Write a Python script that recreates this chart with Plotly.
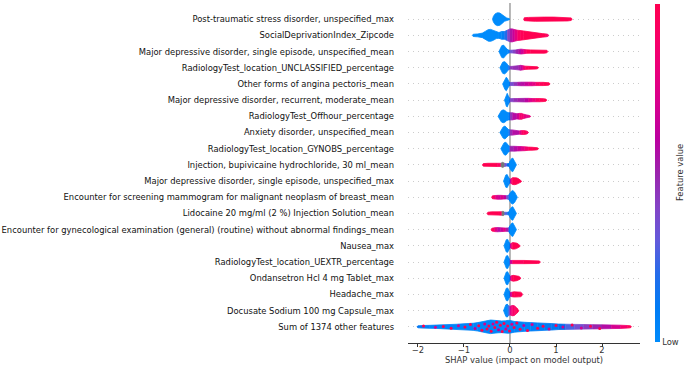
import math
import plotly.graph_objects as go

# ---------------- data (top row first) ----------------
features = [
    "Post-traumatic stress disorder, unspecified_max",
    "SocialDeprivationIndex_Zipcode",
    "Major depressive disorder, single episode, unspecified_mean",
    "RadiologyTest_location_UNCLASSIFIED_percentage",
    "Other forms of angina pectoris_mean",
    "Major depressive disorder, recurrent, moderate_mean",
    "RadiologyTest_Offhour_percentage",
    "Anxiety disorder, unspecified_mean",
    "RadiologyTest_location_GYNOBS_percentage",
    "Injection, bupivicaine hydrochloride, 30 ml_mean",
    "Major depressive disorder, single episode, unspecified_max",
    "Encounter for screening mammogram for malignant neoplasm of breast_mean",
    "Lidocaine 20 mg/ml (2 %) Injection Solution_mean",
    "Encounter for gynecological examination (general) (routine) without abnormal findings_mean",
    "Nausea_max",
    "RadiologyTest_location_UEXTR_percentage",
    "Ondansetron Hcl 4 mg Tablet_max",
    "Headache_max",
    "Docusate Sodium 100 mg Capsule_max",
    "Sum of 1374 other features",
]

# SHAP value knots of each row's swarm
shap_x = [
    [-0.38, -0.36, -0.32, -0.27, -0.22, -0.17, -0.12, -0.07, -0.02, 0.0, 0.30, 0.31, 0.40, 0.55, 0.75, 0.95, 1.10, 1.25, 1.33, 1.35],
    [-0.82, -0.80, -0.70, -0.60, -0.53, -0.47, -0.42, -0.36, -0.30, -0.24, -0.18, -0.12, -0.06, 0.0, 0.05, 0.10, 0.16, 0.22, 0.30, 0.40, 0.50, 0.60, 0.70, 0.78, 0.82, 0.84],
    [-0.24, -0.22, -0.18, -0.14, -0.10, -0.06, -0.02, 0.0, 0.06, 0.12, 0.18, 0.24, 0.30, 0.36, 0.45, 0.55, 0.65, 0.75, 0.80, 0.82],
    [-0.22, -0.20, -0.16, -0.12, -0.08, -0.04, 0.0, 0.06, 0.12, 0.18, 0.23, 0.28, 0.33, 0.40, 0.48, 0.56, 0.60, 0.62],
    [-0.16, -0.14, -0.11, -0.08, -0.05, -0.02, 0.0, 0.08, 0.16, 0.24, 0.32, 0.40, 0.48, 0.56, 0.64, 0.72, 0.80, 0.85, 0.87],
    [-0.12, -0.10, -0.08, -0.06, -0.03, 0.0, 0.08, 0.16, 0.24, 0.32, 0.40, 0.48, 0.56, 0.64, 0.72, 0.78, 0.80],
    [-0.26, -0.23, -0.19, -0.15, -0.11, -0.07, -0.03, 0.0, 0.05, 0.10, 0.15, 0.20, 0.25, 0.30, 0.36, 0.41, 0.44, 0.45],
    [-0.22, -0.19, -0.15, -0.11, -0.07, -0.03, 0.0, 0.05, 0.10, 0.15, 0.20, 0.25, 0.30, 0.35, 0.38, 0.40],
    [-0.20, -0.17, -0.13, -0.09, -0.05, -0.02, 0.0, 0.08, 0.16, 0.24, 0.32, 0.40, 0.48, 0.56, 0.60, 0.62],
    [-0.60, -0.58, -0.48, -0.38, -0.28, -0.20, -0.16, -0.12, -0.07, -0.02, 0.0, 0.03, 0.06, 0.09, 0.12, 0.14],
    [-0.14, -0.12, -0.09, -0.06, -0.03, 0.0, 0.03, 0.06, 0.10, 0.14, 0.18, 0.21, 0.24, 0.25],
    [-0.40, -0.38, -0.32, -0.26, -0.20, -0.14, -0.08, -0.03, 0.0, 0.03, 0.06, 0.10, 0.13, 0.15, 0.16],
    [-0.50, -0.48, -0.40, -0.32, -0.24, -0.18, -0.15, -0.12, -0.06, -0.02, 0.0, 0.03, 0.06, 0.09, 0.12, 0.14],
    [-0.41, -0.39, -0.33, -0.27, -0.21, -0.15, -0.09, -0.03, 0.0, 0.03, 0.06, 0.09, 0.12, 0.14],
    [-0.13, -0.11, -0.08, -0.05, -0.02, 0.0, 0.03, 0.06, 0.10, 0.14, 0.18, 0.21, 0.22],
    [-0.13, -0.11, -0.08, -0.05, -0.02, 0.0, 0.05, 0.12, 0.20, 0.30, 0.40, 0.50, 0.60, 0.64, 0.66],
    [-0.13, -0.11, -0.08, -0.05, -0.02, 0.0, 0.03, 0.07, 0.11, 0.15, 0.19, 0.22, 0.23],
    [-0.13, -0.11, -0.08, -0.05, -0.02, 0.0, 0.04, 0.09, 0.14, 0.19, 0.23, 0.26, 0.27],
    [-0.14, -0.12, -0.09, -0.06, -0.03, 0.0, 0.03, 0.06, 0.09, 0.12, 0.15, 0.18, 0.19],
    [-2.02, -2.0, -1.9, -1.75, -1.6, -1.45, -1.3, -1.15, -1.0, -0.9, -0.8, -0.7, -0.6, -0.5, -0.42, -0.34, -0.26, -0.18, -0.1, -0.04,
     0.02, 0.1, 0.2, 0.32, 0.45, 0.6, 0.75, 0.9, 1.05, 1.2, 1.4, 1.6, 1.8, 2.0, 2.2, 2.4, 2.55, 2.62, 2.64],
]

# swarm half-thickness (point density) at each knot, in row units
spread = [
    [0, 0.18, 0.34, 0.40, 0.38, 0.26, 0.13, 0.07, 0.04, 0, 0, 0.09, 0.11, 0.13, 0.13, 0.13, 0.12, 0.11, 0.08, 0],
    [0, 0.07, 0.09, 0.14, 0.26, 0.36, 0.37, 0.30, 0.20, 0.18, 0.24, 0.24, 0.32, 0.40, 0.40, 0.36, 0.32, 0.30, 0.27, 0.22, 0.18, 0.14, 0.11, 0.09, 0.07, 0],
    [0, 0.14, 0.36, 0.40, 0.30, 0.14, 0.08, 0.08, 0.09, 0.10, 0.13, 0.15, 0.13, 0.11, 0.10, 0.10, 0.10, 0.10, 0.08, 0],
    [0, 0.14, 0.34, 0.38, 0.30, 0.14, 0.08, 0.09, 0.10, 0.13, 0.15, 0.13, 0.10, 0.09, 0.09, 0.08, 0.06, 0],
    [0, 0.10, 0.34, 0.42, 0.30, 0.12, 0.09, 0.10, 0.10, 0.11, 0.11, 0.11, 0.11, 0.10, 0.10, 0.10, 0.09, 0.07, 0],
    [0, 0.16, 0.38, 0.42, 0.22, 0.09, 0.10, 0.10, 0.11, 0.11, 0.11, 0.10, 0.10, 0.10, 0.09, 0.07, 0],
    [0, 0.15, 0.34, 0.40, 0.36, 0.26, 0.22, 0.22, 0.22, 0.18, 0.16, 0.18, 0.18, 0.13, 0.09, 0.06, 0.04, 0],
    [0, 0.14, 0.34, 0.40, 0.30, 0.18, 0.16, 0.16, 0.14, 0.12, 0.10, 0.12, 0.12, 0.10, 0.07, 0],
    [0, 0.14, 0.36, 0.40, 0.26, 0.16, 0.15, 0.15, 0.14, 0.13, 0.12, 0.10, 0.09, 0.08, 0.06, 0],
    [0, 0.08, 0.10, 0.10, 0.10, 0.10, 0.16, 0.10, 0.07, 0.09, 0.22, 0.38, 0.42, 0.30, 0.12, 0],
    [0, 0.14, 0.38, 0.40, 0.22, 0.10, 0.16, 0.21, 0.22, 0.20, 0.16, 0.11, 0.06, 0],
    [0, 0.09, 0.11, 0.12, 0.12, 0.11, 0.10, 0.12, 0.25, 0.38, 0.42, 0.32, 0.16, 0.06, 0],
    [0, 0.08, 0.10, 0.10, 0.10, 0.11, 0.14, 0.08, 0.07, 0.10, 0.24, 0.38, 0.42, 0.30, 0.12, 0],
    [0, 0.09, 0.12, 0.13, 0.12, 0.11, 0.10, 0.11, 0.24, 0.38, 0.42, 0.30, 0.12, 0],
    [0, 0.14, 0.38, 0.40, 0.22, 0.10, 0.16, 0.20, 0.20, 0.17, 0.12, 0.06, 0],
    [0, 0.14, 0.38, 0.40, 0.22, 0.09, 0.10, 0.10, 0.10, 0.10, 0.10, 0.10, 0.09, 0.07, 0],
    [0, 0.14, 0.38, 0.40, 0.22, 0.10, 0.15, 0.18, 0.17, 0.15, 0.12, 0.06, 0],
    [0, 0.14, 0.38, 0.40, 0.22, 0.10, 0.14, 0.16, 0.16, 0.15, 0.14, 0.08, 0],
    [0, 0.14, 0.36, 0.40, 0.30, 0.26, 0.30, 0.32, 0.30, 0.24, 0.16, 0.07, 0],
    [0, 0.06, 0.08, 0.09, 0.10, 0.11, 0.13, 0.16, 0.19, 0.20, 0.22, 0.26, 0.32, 0.38, 0.42, 0.40, 0.37, 0.36, 0.37, 0.40,
     0.38, 0.33, 0.30, 0.28, 0.26, 0.24, 0.22, 0.20, 0.17, 0.16, 0.15, 0.14, 0.13, 0.12, 0.11, 0.10, 0.08, 0.06, 0],
]

# mean (normalised) feature value at each knot: 0 = low, 1 = high, None = missing
feat = [
    [0, 0, 0, 0, 0, 0, 0, 0, 0, 0, 1, 1, 1, 1, 1, 1, 1, 1, 1, 1],
    [0, 0, 0, 0, 0, 0, 0, 0, 0, 0, 0.05, 0.1, 0.3, 0.5, 0.6, 0.7, 0.85, 0.95, 1, 1, 1, 1, 1, 1, 0.85, 0.85],
    [0, 0, 0, 0, 0, 0, 0.1, 0.3, 0.35, 0.45, 0.55, 0.6, 0.75, 0.95, 1, 1, 1, 1, 1, 1],
    [0, 0, 0, 0, 0, 0, 0.4, 0.5, 0.45, 0.5, 0.55, 0.75, 0.95, 1, 1, 1, 1, 1],
    [0, 0, 0, 0, 0, 0, 0.3, 0.4, 0.5, 0.6, 0.55, 0.75, 0.7, 0.85, 0.95, 1, 1, 1, 1],
    [0, 0, 0, 0, 0, 0.35, 0.45, 0.5, 0.55, 0.5, 0.7, 0.75, 0.85, 0.95, 1, 1, 1],
    [0, 0, 0, 0, 0, 0, 0, 0.35, 0.55, 0.6, 0.55, 0.8, 0.9, 0.85, 0.7, 0.8, 0.8, 0.8],
    [0, 0, 0, 0, 0, 0, 0.4, 0.55, 0.6, 0.55, 0.6, 0.9, 0.95, 0.95, 0.9, 0.9],
    [0, 0, 0, 0, 0, 0, 0.45, 0.55, 0.6, 0.7, 0.8, 0.95, 1, 1, 1, 1],
    [1, 1, 1, 1, 1, 0.85, None, 0.35, 0.3, 0.05, 0, 0, 0, 0, 0, 0],
    [0, 0, 0, 0, 0, 0.3, 0.95, 1, 1, 1, 1, 1, 1, 1],
    [1, 1, 0.8, 0.65, 0.7, 0.75, 0.5, 0.15, 0, 0, 0, 0, 0, 0, 0],
    [1, 1, 1, 1, 1, 0.95, None, 0.3, 0.2, 0.05, 0, 0, 0, 0, 0, 0],
    [1, 1, 0.9, 0.55, 0.6, 0.7, 0.8, 0.25, 0, 0, 0, 0, 0, 0],
    [0, 0, 0, 0, 0, 0.3, 0.95, 1, 1, 1, 1, 1, 1],
    [0, 0, 0, 0, 0, 0.4, 0.9, 1, 0.9, 1, 1, 1, 1, 1, 1],
    [0, 0, 0, 0, 0, 0.3, 0.95, 1, 1, 1, 1, 1, 1],
    [0, 0, 0, 0, 0, 0.3, 0.95, 1, 1, 1, 1, 1, 1],
    [0, 0, 0, 0, 0.2, 0.55, 0.9, 0.85, 0.95, 0.9, 1, 1, 1],
    [0.2, 0.15, 0.1, 0.05, 0.05, 0.05, 0.05, 0.05, 0.05, 0.05, 0.05, 0.03, 0.03, 0.03, 0.03, 0.03, 0.03, 0.03, 0.03, 0.03,
     0.03, 0.05, 0.05, 0.05, 0.08, 0.08, 0.1, 0.12, 0.15, 0.2, 0.3, 0.4, 0.45, 0.55, 0.6, 0.8, 0.95, 1, 1],
]

# individual high-value points visible inside the "Sum of other features" swarm
sum_dot_x = [-1.88, -1.62, -1.45, -1.28, -1.12, -0.98, -0.86, -0.76, -0.68, -0.61, -0.55, -0.5, -0.46, -0.41, -0.37, -0.33,
             -0.29, -0.25, -0.21, -0.17, -0.13, -0.09, -0.05, -0.01, 0.04, 0.09, 0.15, 0.22, 0.3, 0.38, 0.48, 0.6, 0.72,
             0.85, 1.0, 1.15, 1.35, 1.55, 1.75, 1.95]
sum_dot_v = [1, 0.7, 1, 1, 0.7, 1, 1, 0.6, 1, 1, 0.7, 1, 1, 1, 0.7, 1, 1, 0.6, 1, 1,
             1, 0.7, 1, 1, 0.7, 1, 1, 1, 0.6, 1, 0.7, 1, 1, 0.7, 1, 0.7, 1, 0.7, 1, 1]

x_ticks = [-2, -1, 0, 1, 2]
x_title = "SHAP value (impact on model output)"
cbar_title = "Feature value"


# ---------------- shap red_blue colormap (LCH interpolation) ----------------
def lab_to_rgb(L, a, b):
    fy = (L + 16) / 116
    fx = fy + a / 500
    fz = fy - b / 200

    def finv(t):
        return t ** 3 if t ** 3 > 0.008856 else (t - 16 / 116) / 7.787

    X, Y, Z = 0.95047 * finv(fx), finv(fy), 1.08883 * finv(fz)
    r = 3.2406 * X - 1.5372 * Y - 0.4986 * Z
    g = -0.9689 * X + 1.8758 * Y + 0.0415 * Z
    bl = 0.0557 * X - 0.2040 * Y + 1.0570 * Z

    def gam(c):
        c = max(0.0, min(1.0, c))
        return 1.055 * c ** (1 / 2.4) - 0.055 if c > 0.0031308 else 12.92 * c

    return tuple(int(round(255 * gam(c))) for c in (r, g, bl))


def red_blue(t):
    L0, C0, H0 = 54.0, 70.0, 4.6588
    L1, C1, H1 = 54.0, 90.0, 0.35470565 + 2 * math.pi
    Lm = 40.0
    L = L0 + (Lm - L0) * 2 * t if t < 0.5 else Lm + (L1 - Lm) * (2 * t - 1)
    C = C0 + (C1 - C0) * t
    H = H0 + (H1 - H0) * t
    return lab_to_rgb(L, C * math.cos(H), C * math.sin(H))


def css(t):
    if t is None:
        return "rgb(119,119,119)"
    return "rgb(%d,%d,%d)" % red_blue(t)


fig = go.Figure()
n = len(features)

for i in range(n):
    yc = n - 1 - i
    xs, hs, vs = shap_x[i], spread[i], feat[i]
    m = len(xs)

    def seg_col(k):
        a, b = vs[k], vs[k + 1]
        if a is None or b is None:
            return css(None)
        return css(round((a + b) / 2, 3))

    k = 0
    while k < m - 1:
        if hs[k] == 0 and hs[k + 1] == 0:
            k += 1
            continue
        col = seg_col(k)
        j = k + 1
        while j < m - 1 and not (hs[j] == 0 and hs[j + 1] == 0) and seg_col(j) == col:
            j += 1
        sx = xs[k:j + 1]
        sh = hs[k:j + 1]
        px = sx + sx[::-1]
        py = [yc + h for h in sh] + [yc - h for h in sh[::-1]]
        fig.add_trace(go.Scatter(
            x=px, y=py, mode="lines", fill="toself", fillcolor=col,
            line=dict(color=col, width=0.8), hoverinfo="skip", showlegend=False))
        k = j

# dots inside the "Sum" swarm
sx_, sh_ = shap_x[-1], spread[-1]
pattern = [0.55, -0.35, 0.15, -0.65, 0.4, -0.1, 0.7, -0.5, 0.25, -0.8]
dot_y = []
for idx, xv in enumerate(sum_dot_x):
    kk = max(k2 for k2 in range(len(sx_)) if sx_[k2] <= xv)
    dot_y.append(pattern[idx % len(pattern)] * sh_[kk])
fig.add_trace(go.Scatter(
    x=sum_dot_x, y=dot_y, mode="markers",
    marker=dict(size=3.0, color=[css(v) for v in sum_dot_v], line=dict(width=0)),
    hoverinfo="skip", showlegend=False))

# colour bar
cscale = [[t / 10, css(t / 10)] for t in range(11)]
fig.add_trace(go.Scatter(
    x=[0], y=[-5], mode="markers",
    marker=dict(color=[0.5], cmin=0, cmax=1, colorscale=cscale, opacity=0, showscale=True,
                colorbar=dict(x=(655 - 408) / 232, xanchor="left", xpad=0, y=0.5, yanchor="middle", ypad=0,
                              thickness=5, lenmode="pixels", len=338, outlinewidth=0,
                              tickvals=[0, 1], ticktext=["Low", "High"], ticks="",
                              tickfont=dict(size=8.4, color="#333333", family="DejaVu Sans"))),
    hoverinfo="skip", showlegend=False))

fig.add_shape(type="line", x0=0, x1=0, y0=-1, y1=n, xref="x", yref="y",
              line=dict(color="#999999", width=1.4), layer="below")

fig.add_annotation(text=cbar_title, x=(680 - 408) / 232, y=0.5, xref="paper", yref="paper",
                   textangle=-90, showarrow=False, xanchor="center", yanchor="middle",
                   font=dict(size=8.4, color="#333333", family="DejaVu Sans"))
fig.add_annotation(text=x_title, x=0.5, y=-(360.5 - 343.5) / 340, xref="paper", yref="paper",
                   showarrow=False, xanchor="center", yanchor="middle",
                   font=dict(size=8.4, color="#333333", family="DejaVu Sans"))

fig.update_layout(
    width=685, height=367,
    margin=dict(l=408, r=45, t=3, b=24, autoexpand=False),
    plot_bgcolor="white", paper_bgcolor="white",
    font=dict(family="DejaVu Sans", size=8.4, color="#333333"),
    xaxis=dict(range=[-2.217, 2.826], tickvals=x_ticks, ticks="outside", ticklen=3, tickwidth=1,
               tickcolor="#333333", showline=True, linecolor="#333333", linewidth=1,
               showgrid=False, zeroline=False, automargin=False, ticklabelstandoff=-4),
    yaxis=dict(range=[-1, n], tickvals=list(range(n)), ticktext=features[::-1], ticks="",
               showline=False, zeroline=False, showgrid=True, gridcolor="#cccccc", gridwidth=0.8,
               griddash="1px,4px", ticklabelstandoff=13, automargin=False,
               tickfont=dict(size=8.4, color="#111111")),
)

fig.write_html("out.html", config={"displayModeBar": False},
               post_script="document.body.style.margin='0px';document.body.style.overflow='hidden';")
